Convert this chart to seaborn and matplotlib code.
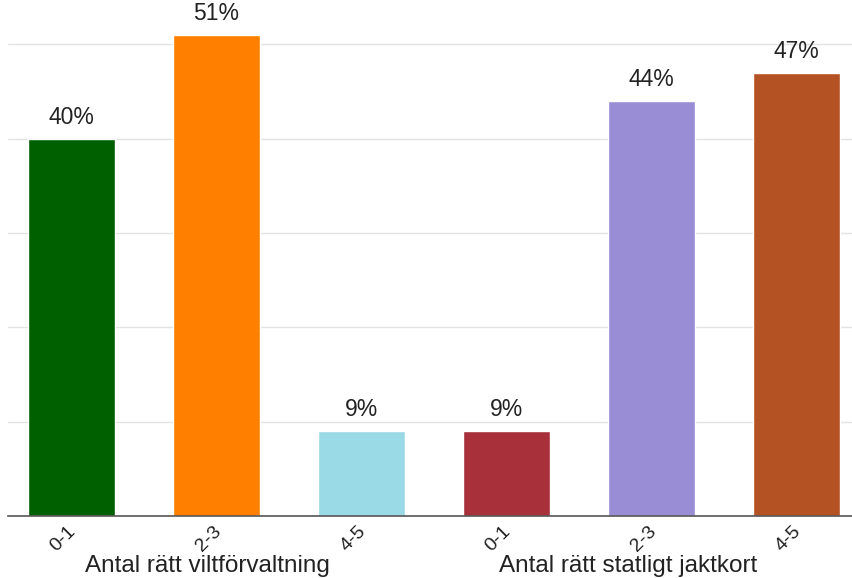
import matplotlib
matplotlib.use("Agg")
import matplotlib.pyplot as plt
import matplotlib.transforms as mtransforms
import seaborn as sns
import pandas as pd

categories = ["0-1", "2-3", "4-5", "0-1", "2-3", "4-5"]
values = [40, 51, 9, 9, 44, 47]
groups = ["Antal rätt viltförvaltning", "Antal rätt statligt jaktkort"]
colors = ["#006000", "#ff8000", "#9ad9e6", "#a8303a", "#998ed6", "#b55224"]

sns.set_theme(style="white")
plt.rcParams['font.family'] = ['Liberation Sans', 'DejaVu Sans']

df = pd.DataFrame({"pos": [str(i) for i in range(len(values))], "value": values})

fig = plt.figure(figsize=(8.52, 5.78), dpi=100)
ax = fig.add_axes([8/852, 1 - 516/578, 1 - 8/852, 516/578])
sns.barplot(data=df, x="pos", y="value", hue="pos", palette=colors,
            legend=False, width=0.6, ax=ax, saturation=1)

ax.set_xlim(-0.438, 5.383)
ax.set_ylim(0, 54.7)
ax.set_yticks([10, 20, 30, 40, 50])
ax.set_yticklabels([])
ax.tick_params(axis='y', length=0)
ax.grid(axis='y', color='#e3e3e3', linewidth=1)
ax.set_axisbelow(True)
for s in ["top", "right", "left"]:
    ax.spines[s].set_visible(False)
ax.spines["bottom"].set_color("#555555")
ax.spines["bottom"].set_linewidth(1.2)

ax.set_xticks(range(len(categories)))
ax.set_xticklabels(categories, rotation=45, ha='right', rotation_mode='anchor',
                   fontsize=14, color='#222222')
ax.tick_params(axis='x', length=0, pad=5)
shift = mtransforms.ScaledTranslation(-4/100, 0, fig.dpi_scale_trans)
for lbl in ax.get_xticklabels():
    lbl.set_transform(lbl.get_transform() + shift)
ax.set_xlabel("")
ax.set_ylabel("")

for i, v in enumerate(values):
    ax.annotate(f"{v}%", (i, v), xytext=(0, 7), textcoords="offset points",
                ha='center', va='bottom', fontsize=16.5, color='#222222')

fig.text(207/852, 1 - 566/578, groups[0], ha='center', va='center',
         fontsize=17.5, color='#222222')
fig.text(628/852, 1 - 566/578, groups[1], ha='center', va='center',
         fontsize=17.5, color='#222222')

fig.savefig("out.png", dpi=100)
